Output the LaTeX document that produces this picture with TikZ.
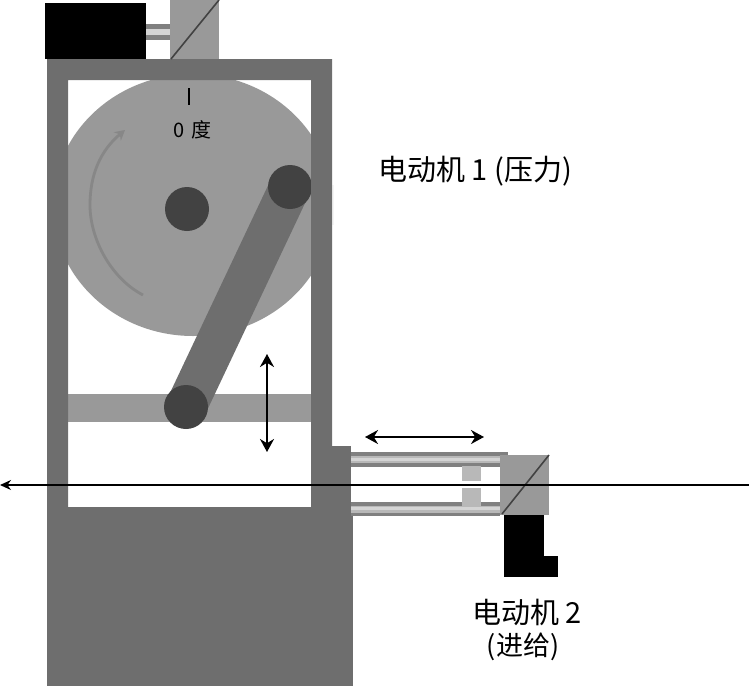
\documentclass[tikz,border=0pt]{standalone}
\usepackage{fontspec}
\setmainfont{Noto Sans CJK SC}
\usetikzlibrary{arrows.meta}
\definecolor{gA}{gray}{0.60}
\definecolor{gB}{gray}{0.43}
\definecolor{gC}{gray}{0.26}
\definecolor{gD}{gray}{0.72}
\definecolor{gE}{gray}{0.83}
\definecolor{gF}{gray}{0.50}
\definecolor{gG}{gray}{0.53}
\definecolor{gH}{gray}{0.96}
\tikzset{
 x=1pt,y=-1pt,
 light/.style={fill=gA,draw=none},
 dark/.style={fill=gB,draw=none},
 black box/.style={fill=black,draw=none},
 pin/.style={fill=gC,draw=none},
 dbl/.style={line width=2pt,{Stealth[length=13pt,width=14pt]}-{Stealth[length=13pt,width=14pt]}},
 diag/.style={line width=1.6pt,gC},
 lab/.style={inner sep=0pt,text=black},
}
\begin{document}
\begin{tikzpicture}
\useasboundingbox (0,0) rectangle (749,686);
% disc
\fill[gA] (193,205) ellipse[x radius=140pt,y radius=131pt];
% faint edge of the disc beyond the frame
\fill[white] (332,150) rectangle (336,260);
\fill[gH] (332,185) rectangle (334,225);
% sliding bar
\fill[light] (68,394) rectangle (311,422);
% rod and pins
\coordinate (crank) at (290,187);
\coordinate (slide) at (186,407);
\coordinate (hub) at (187,209);
\draw[gB,line width=41pt] (crank) -- (slide);
\fill[pin] (hub) circle[radius=22pt];
\fill[pin] (crank) circle[radius=22pt];
\fill[pin] (slide) circle[radius=22pt];
% rotation arrow
\draw[gG,line width=2.8pt,-{Stealth[length=10pt,width=11pt]}] (143,295) .. controls (112,279) and (90,240) .. (90,205) .. controls (90,175) and (100,151) .. (125,130);
% frame
\fill[dark,even odd rule] (47,59) rectangle (332,507) (68,80) rectangle (311,507);
\fill[dark] (47,507) rectangle (353,686);
\fill[dark] (332,446) rectangle (351,507);
\fill[dark] (351,507) rectangle (353,517);
% motor 1
\fill[black box] (45,3) rectangle (146,59);
\fill[gF] (146,24) rectangle (170,40);
\fill[gE] (146,29) rectangle (170,35);
\fill[light] (170,0) rectangle (219,59);
\coordinate (d1a) at (171,59);
\coordinate (d1b) at (219,0);
\draw[diag] (d1a) -- (d1b);
% rails
\fill[gF] (351,452) rectangle (508,467);
\fill[gD] (351,456) rectangle (500,463);
\fill[gE] (351,458) rectangle (500,461);
\fill[gF] (351,502) rectangle (500,516);
\fill[gD] (351,506) rectangle (500,513);
\fill[gE] (351,507) rectangle (500,510);
% slider
\fill[gD] (462,466) rectangle (481,481);
\fill[gD] (462,488) rectangle (481,506);
% motor 2
\fill[light] (500,455) rectangle (549,515);
\fill[black box] (504,515) rectangle (544,577);
\fill[black box] (544,556) rectangle (558,577);
\coordinate (d2a) at (502,514);
\coordinate (d2b) at (549,455);
\draw[diag] (d2a) -- (d2b);
% wire
\coordinate (wireL) at (0,485);
\coordinate (wireR) at (749,485);
\draw[line width=1.4pt,{Stealth[length=11pt,width=10pt]}-] (wireL) -- (wireR);
% arrows
\coordinate (vt) at (267,354);
\coordinate (vb) at (267,452);
\draw[dbl] (vt) -- (vb);
\coordinate (hl) at (365,437);
\coordinate (hr) at (484,437);
\draw[dbl] (hl) -- (hr);
% tick
\coordinate (t1) at (189,88);
\coordinate (t2) at (189,105);
\draw[line width=1.8pt] (t1) -- (t2);
% labels
\node[lab,font=\fontsize{20pt}{22pt}\selectfont] (zero) at (192.5,130) {0\hspace{7pt}度};
\node[lab,font=\fontsize{29pt}{31pt}\selectfont] (m1) at (475,171) {电动机 1 (压力)};
\node[lab,font=\fontsize{29pt}{31pt}\selectfont] (m2) at (527,612) {电动机 2};
\node[lab,font=\fontsize{27pt}{29pt}\selectfont] (m2b) at (523,647) {(进给)};
\end{tikzpicture}
\end{document}
